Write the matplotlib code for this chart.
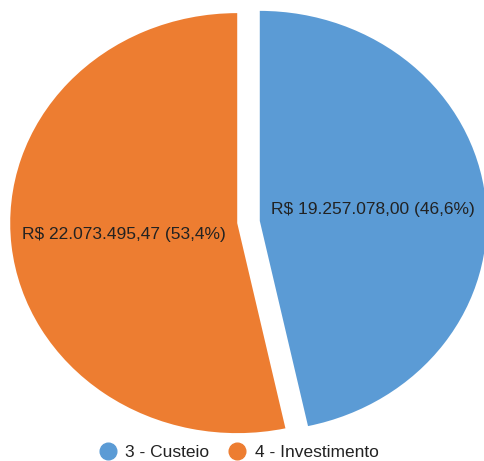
import matplotlib
matplotlib.use("Agg")
import matplotlib.pyplot as plt
from matplotlib.lines import Line2D
import numpy as np

categories = ["3 - Custeio", "4 - Investimento"]
values = [19257078.00, 22073495.47]
colors = ["#5B9BD5", "#ED7D31"]

def brl(v):
    s = f"{v:,.2f}"
    return s.replace(",", "X").replace(".", ",").replace("X", ".")

total = sum(values)
labels = []
for v in values:
    pct = f"{v / total * 100:.1f}".replace(".", ",")
    labels.append(f"R$ {brl(v)} ({pct}%)")

plt.rcParams['font.family'] = ['Liberation Sans', 'DejaVu Sans']

fig = plt.figure(figsize=(4.85, 4.61), dpi=100)
ax = fig.add_axes([0, 0, 1, 1])
wedges, _ = ax.pie(values, colors=colors, startangle=90, counterclock=False,
                   explode=[0.05, 0.05], wedgeprops=dict(linewidth=0))
ax.set_aspect('auto')
rx, ry = 227.0, 210.0
cx, cy = 248.5, 239.0
ax.set_xlim(-cx / rx, (485 - cx) / rx)
ax.set_ylim(-cy / ry, (461 - cy) / ry)
ax.axis('off')

ang = 90.0
for w, lab, v in zip(wedges, labels, values):
    span = v / total * 360
    mid = np.deg2rad(ang - span / 2)
    ang -= span
    cxw, cyw = w.center
    ax.text(cxw + 0.5 * np.cos(mid), cyw + 0.5 * np.sin(mid), lab,
            ha='center', va='center', fontsize=12.5, color='#222222')

handles = [Line2D([], [], marker='o', linestyle='', markersize=12,
                  markerfacecolor=c, markeredgecolor=c) for c in colors]
fig.legend(handles, categories, loc='center', bbox_to_anchor=(238 / 485, 1 - 452 / 461),
           ncol=2, frameon=False, fontsize=12.5, handletextpad=0.4, columnspacing=1.0,
           handlelength=1.2, labelcolor='#222222')

fig.savefig("out.png", dpi=100)
